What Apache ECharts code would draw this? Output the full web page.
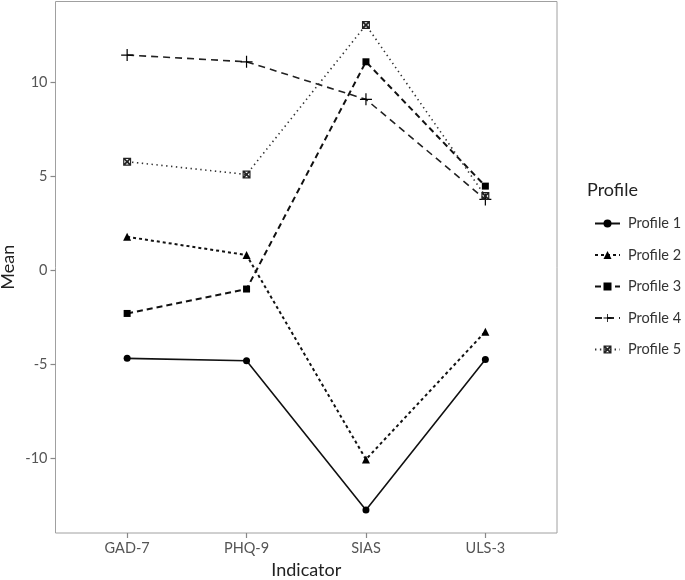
<!DOCTYPE html>
<html>
<head>
<meta charset="utf-8">
<script src="https://cdn.jsdelivr.net/npm/echarts@6/dist/echarts.min.js"></script>
<style>html,body{margin:0;padding:0;background:#fff;}#c{width:685px;height:580px;}</style>
</head>
<body>
<div id="c"></div>
<script>
var categories = ['GAD-7', 'PHQ-9', 'SIAS', 'ULS-3'];
var yTicks = [-10, -5, 0, 5, 10];
var profileNames = ['Profile 1', 'Profile 2', 'Profile 3', 'Profile 4', 'Profile 5'];
var profile1 = [-4.70, -4.83, -12.78, -4.76];
var profile2 = [1.77, 0.80, -10.08, -3.28];
var profile3 = [-2.31, -1.01, 11.09, 4.47];
var profile4 = [11.45, 11.09, 9.09, 3.76];
var profile5 = [5.77, 5.09, 13.05, 3.94];

var values = [profile1, profile2, profile3, profile4, profile5];
var plusPath = 'path://M-0.6,-6H0.6V-0.6H6V0.6H0.6V6H-0.6V0.6H-6V-0.6H-0.6Z';
var boxPath = 'path://M0,0H10V10H0Z M3,1.5L5,3.5L7,1.5Z M8.5,3L6.5,5L8.5,7Z M7,8.5L5,6.5L3,8.5Z M1.5,7L3.5,5L1.5,3Z';
var styles = [
  {symbol: 'circle', size: 7, line: {type: 'solid', width: 1.6, color: '#111'}},
  {symbol: 'triangle', size: 8, line: {type: [3, 3], width: 2, color: '#111'}},
  {symbol: 'rect', size: 7, line: {type: [6, 4], width: 2, color: '#111'}},
  {symbol: plusPath, size: 12, line: {type: [7, 5], width: 1.6, color: '#222'}},
  {symbol: boxPath, size: 8, line: {type: [1.4, 3.5], width: 1.6, color: '#333'}}
];

var series = profileNames.map(function (name, i) {
  return {
    name: name,
    type: 'line',
    data: values[i].map(function (v, j) { return [j + 1, v]; }),
    symbol: styles[i].symbol,
    symbolSize: styles[i].size,
    showAllSymbol: true,
    lineStyle: styles[i].line,
    itemStyle: {color: i === 4 ? '#222' : '#000'},
    emphasis: {disabled: true},
    z: 2 + i
  };
});

var chart = echarts.init(document.getElementById('c'), null, {renderer: 'canvas'});
chart.setOption({
  animation: false,
  backgroundColor: '#fff',
  textStyle: {fontFamily: 'Lato'},
  grid: {left: 55.5, top: 1.5, width: 501.5, height: 531.5, show: true, borderColor: '#a0a0a0', borderWidth: 1, containLabel: false, outerBoundsMode: 'none'},
  title: {
    text: 'Profile', left: 582, top: 176,
    textStyle: {fontFamily: 'Lato', fontSize: 18, fontWeight: 'normal', color: '#222'}
  },
  legend: {
    orient: 'vertical', left: 589, top: 211,
    itemWidth: 25, itemHeight: 10, itemGap: 16.5,
    data: profileNames,
    textStyle: {fontFamily: 'Lato', fontSize: 14.5, color: '#333', padding: [0, 0, 0, 3]}
  },
  xAxis: {
    type: 'value', min: 0.4, max: 4.6,
    name: 'Indicator', nameLocation: 'middle', nameGap: 28, nameMoveOverlap: false,
    nameTextStyle: {fontFamily: 'Lato', fontSize: 18, color: '#222'},
    axisLine: {show: false, onZero: false},
    splitLine: {show: false},
    axisTick: {show: true, length: 5, customValues: [1, 2, 3, 4], lineStyle: {color: '#888', width: 1.2}},
    axisLabel: {
      customValues: [1, 2, 3, 4], margin: 8,
      fontFamily: 'Lato', fontSize: 14.5, color: '#555',
      formatter: function (v) { return categories[Math.round(v) - 1]; }
    }
  },
  yAxis: {
    type: 'value', min: -14.0, max: 14.3,
    name: 'Mean', nameLocation: 'middle', nameGap: 38, nameMoveOverlap: false,
    nameTextStyle: {fontFamily: 'Lato', fontSize: 18, color: '#222'},
    axisLine: {show: false, onZero: false},
    splitLine: {show: false},
    axisTick: {show: true, length: 5, customValues: yTicks, lineStyle: {color: '#888', width: 1.2}},
    axisLabel: {customValues: yTicks, margin: 8, fontFamily: 'Lato', fontSize: 14.5, color: '#555'}
  },
  series: series
});
</script>
</body>
</html>
